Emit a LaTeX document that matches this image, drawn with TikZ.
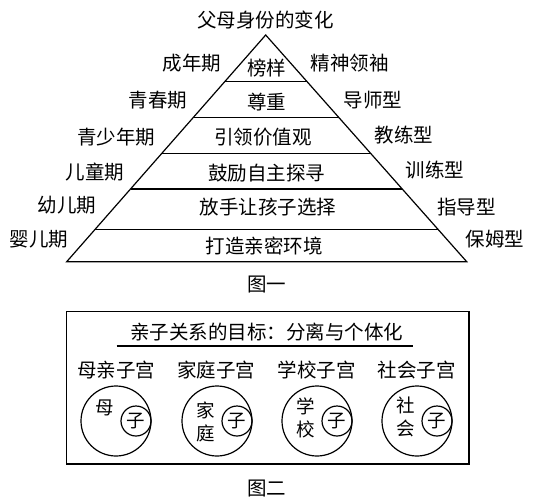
\documentclass[tikz,border=0pt]{standalone}
\usepackage{fontspec}
\newfontfamily\cjk{Noto Sans CJK SC}
\usetikzlibrary{calc, positioning}

\begin{document}
\begin{tikzpicture}[
    x = 1pt, y = -1pt, line width = 1.2pt,
    every node/.style = {font = \cjk\fontsize{19.5}{22}\selectfont, inner sep = 0pt},
    stage/.style = {anchor = east},
    role/.style = {anchor = west},
    womb/.style = {draw, circle, minimum size = 70pt},
    kid/.style = {draw, circle, minimum size = 30pt, font = \cjk\fontsize{18.5}{20}\selectfont},
    inner/.style = {align = center, font = \cjk\fontsize{18.5}{23.5}\selectfont}
  ]
  \useasboundingbox (0,0) rectangle (538,498);

  \node (top) at (265.7,20) {父母身份的变化};
  \coordinate (apex) at (265.7,35);
  \coordinate (bl) at (66.7,261.7);
  \coordinate (br) at (466.7,261.7);
  \draw (apex) -- (bl) -- (br) -- cycle;
  \foreach \t in {0.206, 0.363, 0.522, 0.679, 0.857}
    \draw ($(apex)!\t!(bl)$) -- ($(apex)!\t!(br)$);

  \node (l1) at (266.7,68.3) {榜样};
  \node (l2) at (266.7,101.7) {尊重};
  \node (l3) at (263,136.7) {引领价值观};
  \node (l4) at (266.7,173.3) {鼓励自主探寻};
  \node (l5) at (268,206.7) {放手让孩子选择};
  \node (l6) at (264,246) {打造亲密环境};

  \node[stage] (adult) at (221.7,63) {成年期};
  \node[stage] (youth) at (187.7,100) {青春期};
  \node[stage] (teen) at (156,136.7) {青少年期};
  \node[stage] (child) at (125,171.7) {儿童期};
  \node[stage] (tod) at (96.7,205) {幼儿期};
  \node[stage] (baby) at (69,239.3) {婴儿期};

  \node[role] (leader) at (310,63) {精神领袖};
  \node[role] (mentor) at (343.3,100) {导师型};
  \node[role] (coach) at (374,135) {教练型};
  \node[role] (trainer) at (405,170) {训练型};
  \node[role] (guide) at (436.7,206.7) {指导型};
  \node[role] (nanny) at (465,239.3) {保姆型};

  \node (fig1) at (266.7,285) {图一};

  \draw (66.7,311.7) rectangle (469,464);
  \node (goal) at (266.7,331.7) {亲子关系的目标：分离与个体化};
  \draw (116.7,346) -- (413.3,346);

  \node (mom) at (116,370) {母亲子宫};
  \node (home) at (216,370) {家庭子宫};
  \node (school) at (316.7,370) {学校子宫};
  \node (society) at (416.7,370) {社会子宫};

  \node[womb] (w1) at (116,421) {};
  \node[womb] (w2) at (217,421) {};
  \node[womb] (w3) at (317,421) {};
  \node[womb] (w4) at (417,421) {};
  \node[kid] (k1) at ($(w1)+(20,0)$) {子};
  \node[kid] (k2) at ($(w2)+(20,0)$) {子};
  \node[kid] (k3) at ($(w3)+(20,0)$) {子};
  \node[kid] (k4) at ($(w4)+(20,0)$) {子};
  \node[inner] (m1) at (105,408) {母};
  \node[inner] (m2) at (206,422) {家\\庭};
  \node[inner] (m3) at (306,418) {学\\校};
  \node[inner] (m4) at (406,417) {社\\会};

  \node (fig2) at (266.7,489) {图二};
\end{tikzpicture}
\end{document}
